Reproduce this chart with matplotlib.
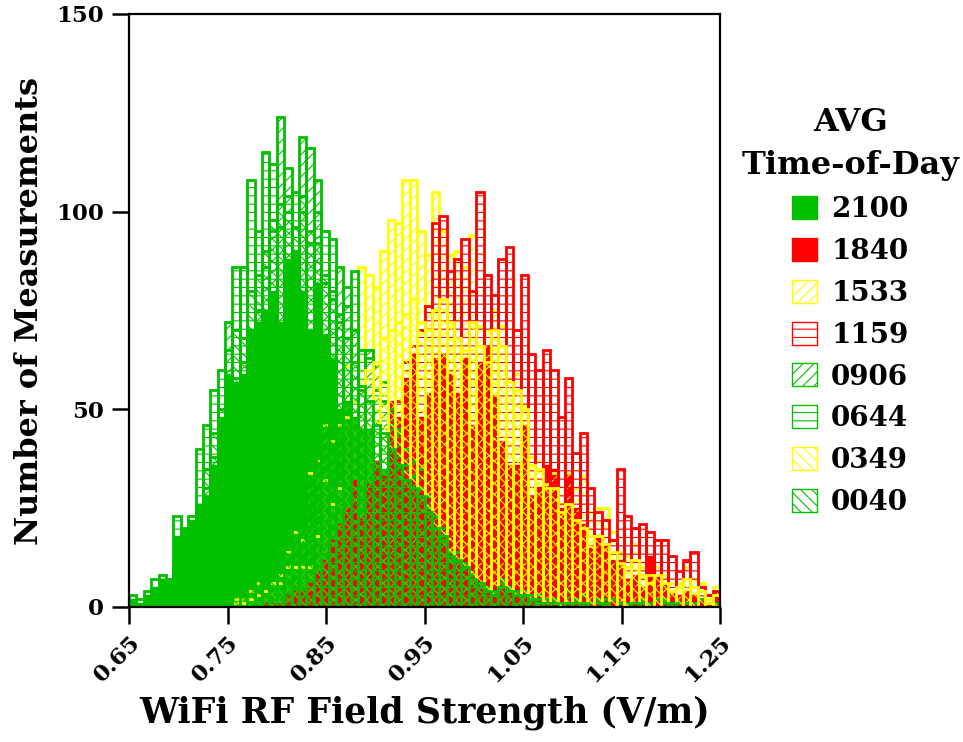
import numpy as np
import matplotlib
matplotlib.use("Agg")
import matplotlib.pyplot as plt
from matplotlib.patches import Patch

plt.rcParams['font.family'] = ['DejaVu Serif']
plt.rcParams['font.weight'] = 'bold'
plt.rcParams['hatch.linewidth'] = 0.8

# Histogram bins (V/m)
bin_start = 0.65
bin_width = 0.0075
n_bins = 80

# Counts per bin for each time-of-day run
c2100 = [2, 1, 3, 5, 7, 7, 18, 20, 22, 26,
         28, 36, 48, 59, 57, 59, 70, 72, 75, 80,
         72, 88, 90, 80, 70, 82, 69, 63, 50, 52,
         48, 45, 45, 37, 35, 30, 28, 26, 24, 22,
         18, 15, 13, 10, 9, 8, 6, 5, 4, 3,
         5, 3, 3, 2, 2, 2, 1, 2, 1, 1,
         1, 1, 0, 1, 0, 1, 0, 0, 1, 0,
         0, 1, 0, 0, 0, 0, 1, 0, 0, 0]

c1840 = [0, 0, 0, 0, 0, 0, 0, 0, 0, 0,
         0, 0, 0, 0, 0, 0, 0, 0, 1, 1,
         1, 3, 4, 4, 6, 9, 12, 17, 21, 25,
         32, 23, 31, 37, 33, 52, 48, 58, 64, 48,
         54, 63, 64, 59, 54, 63, 46, 62, 66, 53,
         42, 36, 36, 46, 28, 30, 36, 35, 25, 34,
         25, 21, 15, 18, 16, 12, 12, 7, 8, 5,
         13, 8, 6, 4, 3, 4, 3, 2, 1, 4]

c1533 = [0, 0, 0, 0, 0, 0, 0, 0, 0, 0,
         0, 0, 0, 0, 2, 2, 4, 6, 4, 6,
         8, 14, 19, 17, 34, 37, 46, 42, 46, 61,
         70, 86, 84, 81, 90, 98, 97, 108, 108, 95,
         89, 105, 95, 89, 90, 86, 94, 71, 70, 75,
         71, 58, 59, 51, 38, 37, 31, 34, 26, 34,
         30, 33, 24, 25, 25, 19, 14, 13, 16, 10,
         8, 10, 8, 6, 6, 10, 7, 6, 2, 5]

c1159 = [0, 0, 0, 0, 0, 0, 0, 0, 0, 0,
         0, 0, 0, 0, 0, 0, 0, 0, 0, 0,
         0, 0, 1, 1, 2, 2, 3, 4, 5, 7,
         9, 12, 16, 22, 30, 40, 52, 62, 66, 70,
         76, 97, 99, 85, 88, 93, 80, 105, 84, 79,
         88, 91, 70, 84, 64, 60, 65, 60, 48, 58,
         39, 44, 30, 24, 22, 17, 35, 23, 20, 21,
         19, 17, 17, 13, 9, 12, 14, 5, 3, 4]

c0906 = [0, 0, 0, 2, 3, 3, 10, 8, 12, 20,
         30, 38, 45, 72, 58, 62, 70, 75, 86, 95,
         124, 111, 90, 119, 116, 108, 82, 80, 86, 81,
         70, 55, 65, 61, 52, 46, 45, 40, 37, 35,
         28, 23, 20, 14, 14, 11, 8, 6, 5, 4,
         7, 5, 4, 4, 3, 3, 2, 2, 1, 4,
         2, 3, 1, 2, 2, 2, 1, 1, 1, 2,
         1, 2, 2, 1, 1, 1, 1, 2, 1, 1]

c0644 = [3, 2, 4, 7, 8, 7, 23, 20, 23, 40,
         46, 55, 60, 65, 86, 86, 108, 95, 115, 112,
         96, 104, 105, 100, 92, 100, 95, 93, 72, 76,
         85, 65, 63, 55, 57, 50, 44, 36, 33, 30,
         25, 20, 17, 12, 12, 10, 7, 5, 4, 3,
         6, 4, 3, 3, 2, 2, 2, 1, 1, 1,
         1, 1, 0, 1, 1, 0, 1, 0, 0, 1,
         0, 0, 1, 0, 0, 0, 0, 0, 0, 0]

c0349 = [0, 0, 0, 0, 0, 0, 0, 0, 0, 0,
         0, 0, 0, 0, 1, 1, 2, 3, 4, 6,
         6, 10, 10, 10, 10, 18, 32, 26, 30, 48,
         52, 56, 60, 62, 68, 70, 72, 74, 78, 72,
         70, 75, 78, 72, 68, 65, 72, 66, 62, 70,
         66, 57, 55, 50, 36, 35, 30, 30, 24, 26,
         22, 20, 18, 18, 16, 14, 11, 10, 12, 8,
         6, 8, 6, 4, 5, 7, 5, 4, 1, 3]

c0040 = [0, 0, 1, 2, 3, 2, 8, 10, 12, 25,
         35, 44, 50, 55, 70, 68, 80, 84, 90, 98,
         102, 100, 96, 104, 95, 92, 84, 78, 74, 68,
         62, 56, 52, 46, 44, 40, 36, 32, 30, 28,
         24, 20, 18, 13, 12, 10, 7, 6, 4, 3,
         5, 4, 3, 3, 2, 1, 1, 1, 0, 1,
         0, 1, 0, 0, 1, 0, 0, 0, 1, 0,
         0, 0, 0, 1, 0, 0, 0, 0, 0, 0]

labels = ['2100', '1840', '1533', '1159', '0906', '0644', '0349', '0040']
series = [c2100, c1840, c1533, c1159, c0906, c0644, c0349, c0040]

green = '#00c000'
red = '#ff0000'
yellow = '#ffff00'
colors = [green, red, yellow, red, green, green, yellow, green]
hatches = [None, None, '///', '--', '///', '--', '\\\\\\', '\\\\\\']

left_edges = bin_start + bin_width * np.arange(n_bins)

fig = plt.figure(figsize=(9.63, 7.42), dpi=100)
ax = fig.add_axes([0.134, 0.182, 0.6137, 0.7992])

for lab, counts, col, h in zip(labels, series, colors, hatches):
    if h is None:
        ax.bar(left_edges, counts, width=bin_width, align='edge',
               color=col, edgecolor=col, linewidth=1.0)
    else:
        ax.bar(left_edges, counts, width=bin_width, align='edge',
               facecolor='none', edgecolor=col, hatch=h, linewidth=2.0)

ax.set_xlim(0.65, 1.25)
ax.set_ylim(0, 150)
ax.set_xticks(np.arange(0.65, 1.2501, 0.1))
ax.set_xticklabels(['0.65', '0.75', '0.85', '0.95', '1.05', '1.15', '1.25'],
                   rotation=45, ha='right', va='top', rotation_mode='anchor')
ax.set_yticks([0, 50, 100, 150])
ax.tick_params(direction='out', length=12, width=1.8, labelsize=16.5, pad=6)
for sp in ax.spines.values():
    sp.set_linewidth(1.6)

ax.set_xlabel('WiFi RF Field Strength (V/m)', fontsize=25, fontweight='bold', labelpad=6)
ax.set_ylabel('Number of Measurements', fontsize=23, fontweight='bold', labelpad=8)

handles = []
for lab, col, h in zip(labels, colors, hatches):
    if h is None:
        handles.append(Patch(facecolor=col, edgecolor=col, label=lab))
    else:
        handles.append(Patch(facecolor='none', edgecolor=col, hatch=h, linewidth=1.0, label=lab))

leg = fig.legend(handles=handles, title='AVG\nTime-of-Day', loc='upper center',
                 bbox_to_anchor=(0.883, 0.889), frameon=False, fontsize=20,
                 title_fontproperties={'size': 23, 'weight': 'bold'},
                 handlelength=0.9, handleheight=0.9, labelspacing=0.53,
                 handletextpad=0.5)
leg._legend_box.align = 'center'
leg.get_title().set_multialignment('center')
leg.get_title().set_linespacing(1.5)

fig.savefig('out.png', dpi=100)
